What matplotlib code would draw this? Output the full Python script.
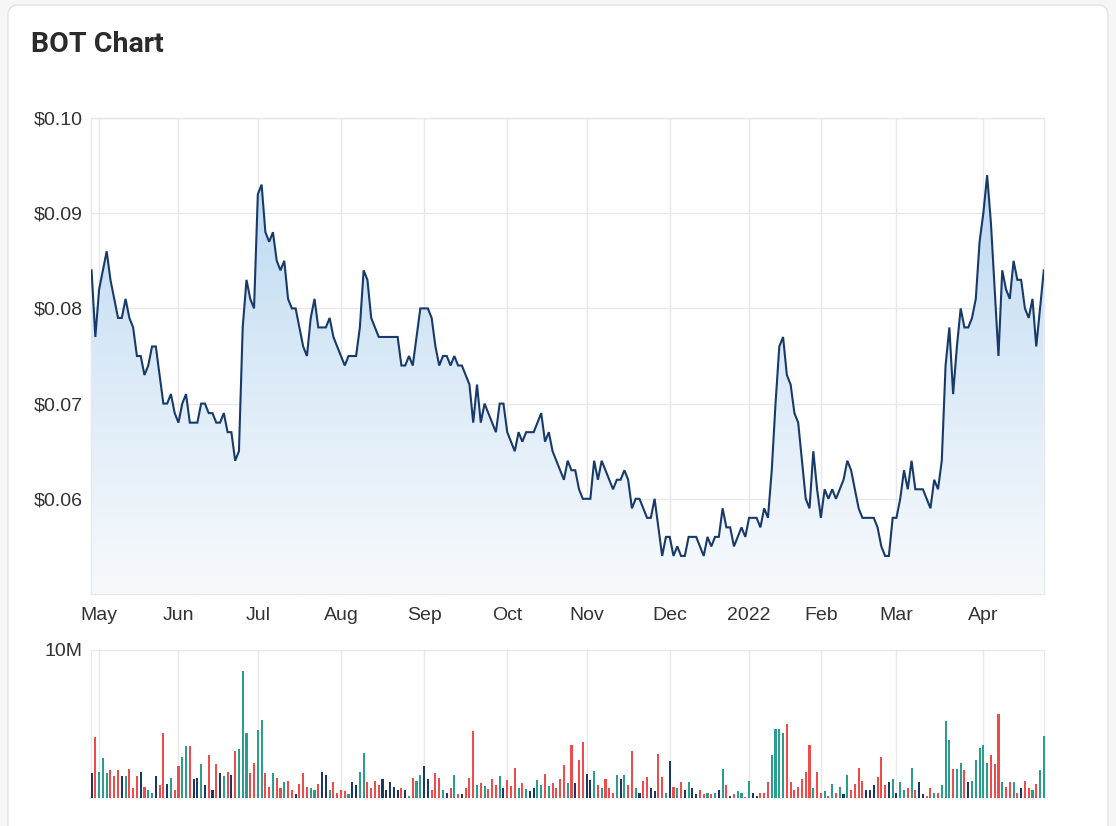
import numpy as np
import pandas as pd
import matplotlib
matplotlib.use("Agg")
import matplotlib.pyplot as plt
from matplotlib.patches import FancyBboxPatch
from matplotlib.colors import LinearSegmentedColormap
from matplotlib.transforms import IdentityTransform

# ASX closed days in the period
holidays = ["2021-06-14", "2021-12-27", "2021-12-28", "2022-01-03",
            "2022-01-26", "2022-04-15", "2022-04-18", "2022-04-25"]

# daily close ($), from 29 Apr 2021
price = [
    0.084, 0.077, 0.082, 0.084, 0.086, 0.083, 0.081, 0.079, 0.079, 0.081,
    0.079, 0.078, 0.075, 0.075, 0.073, 0.074, 0.076, 0.076, 0.073, 0.070,
    0.070, 0.071, 0.069, 0.068, 0.070, 0.071, 0.068, 0.068, 0.068, 0.070,
    0.070, 0.069, 0.069, 0.068, 0.068, 0.069, 0.067, 0.067, 0.064, 0.065,
    0.078, 0.083, 0.081, 0.080, 0.092, 0.093, 0.088, 0.087, 0.088, 0.085,
    0.084, 0.085, 0.081, 0.080, 0.080, 0.078, 0.076, 0.075, 0.079, 0.081,
    0.078, 0.078, 0.078, 0.079, 0.077, 0.076, 0.075, 0.074, 0.075, 0.075,
    0.075, 0.078, 0.084, 0.083, 0.079, 0.078, 0.077, 0.077, 0.077, 0.077,
    0.077, 0.077, 0.074, 0.074, 0.075, 0.074, 0.077, 0.080, 0.080, 0.080,
    0.079, 0.076, 0.074, 0.075, 0.075, 0.074, 0.075, 0.074, 0.074, 0.073,
    0.072, 0.068, 0.072, 0.068, 0.070, 0.069, 0.068, 0.067, 0.070, 0.070,
    0.067, 0.066, 0.065, 0.067, 0.066, 0.067, 0.067, 0.067, 0.068, 0.069,
    0.066, 0.067, 0.065, 0.064, 0.063, 0.062, 0.064, 0.063, 0.063, 0.061,
    0.060, 0.060, 0.060, 0.064, 0.062, 0.064, 0.063, 0.062, 0.061, 0.062,
    0.062, 0.063, 0.062, 0.059, 0.060, 0.060, 0.059, 0.058, 0.058, 0.060,
    0.057, 0.054, 0.056, 0.056, 0.054, 0.055, 0.054, 0.054, 0.056, 0.056,
    0.056, 0.055, 0.054, 0.056, 0.055, 0.056, 0.056, 0.059, 0.057, 0.057,
    0.055, 0.056, 0.057, 0.056, 0.058, 0.058, 0.058, 0.057, 0.059, 0.058,
    0.063, 0.070, 0.076, 0.077, 0.073, 0.072, 0.069, 0.068, 0.064, 0.060,
    0.059, 0.065, 0.061, 0.058, 0.061, 0.060, 0.061, 0.060, 0.061, 0.062,
    0.064, 0.063, 0.061, 0.059, 0.058, 0.058, 0.058, 0.058, 0.057, 0.055,
    0.054, 0.054, 0.058, 0.058, 0.060, 0.063, 0.061, 0.064, 0.061, 0.061,
    0.061, 0.060, 0.059, 0.062, 0.061, 0.064, 0.074, 0.078, 0.071, 0.076,
    0.080, 0.078, 0.078, 0.079, 0.081, 0.087, 0.090, 0.094, 0.089, 0.082,
    0.075, 0.084, 0.082, 0.081, 0.085, 0.083, 0.083, 0.080, 0.079, 0.081,
    0.076, 0.080, 0.084,
]

# daily volume (millions of shares)
volume = [
    1.68, 4.10, 1.77, 2.70, 1.68, 1.88, 1.48, 1.88, 1.48, 1.48,
    1.97, 0.67, 1.48, 1.77, 0.76, 0.56, 0.36, 1.48, 0.87, 4.40,
    0.96, 1.36, 0.56, 2.17, 2.77, 3.49, 3.49, 1.28, 1.36, 2.28,
    0.87, 2.89, 0.56, 2.28, 1.68, 1.48, 1.77, 1.57, 3.18, 3.29,
    8.61, 4.38, 1.68, 2.37, 4.59, 5.30, 1.68, 0.76, 1.68, 1.36,
    0.67, 1.07, 1.16, 0.56, 0.27, 0.96, 1.68, 0.76, 0.67, 0.56,
    0.96, 1.77, 1.57, 0.56, 1.07, 0.36, 0.56, 0.47, 0.27, 1.07,
    0.87, 1.77, 3.06, 1.07, 0.67, 1.16, 0.87, 1.28, 0.56, 1.07,
    0.76, 0.56, 0.67, 0.56, 0.16, 1.36, 1.16, 1.57, 2.17, 1.28,
    0.56, 1.68, 1.36, 0.56, 0.36, 0.67, 1.57, 0.27, 0.27, 0.67,
    1.36, 4.50, 0.87, 1.00, 0.80, 0.60, 1.30, 0.90, 1.50, 0.70,
    1.20, 0.80, 2.00, 0.70, 1.00, 0.60, 0.50, 0.70, 1.20, 0.90,
    1.60, 0.80, 1.00, 0.70, 1.30, 2.20, 1.00, 3.60, 1.00, 2.60,
    3.80, 1.60, 1.20, 1.80, 0.90, 0.65, 1.28, 0.65, 0.34, 1.57,
    1.28, 1.57, 0.87, 3.18, 0.65, 0.34, 1.16, 1.45, 0.65, 0.47,
    3.00, 1.45, 0.34, 2.48, 0.74, 0.65, 1.05, 0.56, 1.05, 0.65,
    0.27, 0.56, 0.27, 0.34, 0.27, 0.34, 0.56, 1.95, 0.87, 0.16,
    0.27, 0.47, 0.34, 0.05, 1.16, 0.34, 0.16, 0.34, 0.34, 1.05,
    2.89, 4.68, 4.68, 4.36, 4.99, 1.05, 0.56, 0.74, 1.28, 1.77,
    3.58, 0.65, 1.77, 0.34, 0.47, 0.16, 0.96, 0.34, 0.76, 0.27,
    1.57, 0.56, 0.96, 2.06, 1.16, 0.56, 0.56, 0.87, 1.45, 2.77,
    0.87, 1.05, 1.28, 0.34, 1.05, 0.56, 0.65, 2.06, 0.56, 1.05,
    0.27, 0.16, 0.65, 0.34, 0.34, 0.87, 5.19, 3.89, 1.95, 1.95,
    2.37, 1.88, 1.05, 1.16, 2.57, 3.38, 3.58, 2.37, 2.89, 2.28,
    5.70, 1.05, 0.76, 1.05, 1.05, 0.34, 0.65, 1.16, 0.65, 0.56,
    0.96, 1.88, 4.18,
]

# u = up day, d = down day, f = unchanged
direction = "".join([
    "fduuudddfu", "dddfduufdd", "fudduudffu", "fdfdfudfdu", "uudduuddud",
    "duddfddduu", "dffudddduf", "fuuddddfff", "ffdfuduuff", "dddufdudfd",
    "ddududdduf", "ddduduffuu", "duddddudfd", "dffududddu", "fuddufddff",
    "ddufdudfuf", "fddudufudf", "duuduffddd", "uuuudddddd", "duddududuf",
    "uddddfffdd", "dfufuududf", "fdduduuudu", "udfuuuuudd", "duddudfddu",
    "duu",
])

month_labels = ["May", "Jun", "Jul", "Aug", "Sep", "Oct", "Nov", "Dec",
                "2022", "Feb", "Mar", "Apr"]
price_ticks = [0.06, 0.07, 0.08, 0.09, 0.10]

assert len(price) == len(volume) == len(direction)

days = pd.bdate_range("2021-04-29", "2022-05-31")
days = days[~days.isin(pd.to_datetime(holidays))][:len(price)]
x = np.arange(len(price))
months = days.to_period("M")
month_pos = [i for i in range(1, len(days)) if months[i] != months[i - 1]]

plt.rcParams['font.family'] = ['Liberation Sans', 'DejaVu Sans']

W, H = 1116, 826
fig = plt.figure(figsize=(W / 100, H / 100), dpi=100, facecolor="#f6f6f6")

# white card behind everything
card = FancyBboxPatch((8, -30), 1100, H - 5 + 30,
                      boxstyle="round,pad=0,rounding_size=10",
                      transform=IdentityTransform(), facecolor="white",
                      edgecolor="#e2e2e2", linewidth=1, zorder=-10)
fig.patches.append(card)

fig.text(31 / W, 1 - 44 / H, "BOT Chart", fontsize=20.5, fontweight="bold",
         color="#2b2b2b", va="center", ha="left", family=["Roboto", "DejaVu Sans"])

grid_c = "#e8e8e8"
text_c = "#333333"
x0, x1 = -0.15, len(price) - 1 + 0.05

# price panel
ax = fig.add_axes([91 / W, 1 - 594 / H, (1044 - 91) / W, (594 - 118) / H])
ax.set_facecolor("none")
ax.set_xlim(x0, x1)
ax.set_ylim(0.05, 0.10)

grad = np.linspace(0, 1, 256).reshape(-1, 1)
cmap = LinearSegmentedColormap.from_list("fill", ["#f7fafd", "#d9e9f7", "#b3d4f0"])
im = ax.imshow(grad, extent=[x0, x1, 0.05, 0.10], origin="lower",
               aspect="auto", cmap=cmap, zorder=1)
poly = ax.fill_between(x, price, 0.05, color="none", linewidth=0)
im.set_clip_path(poly.get_paths()[0], transform=ax.transData)
ax.plot(x, price, color="#173a6b", linewidth=1.5, zorder=3,
        solid_joinstyle="miter")

ax.set_yticks(price_ticks)
ax.set_yticklabels([f"${v:.2f}" for v in price_ticks])
ax.set_xticks(month_pos)
ax.set_xticklabels(month_labels)
ax.grid(True, color=grid_c, linewidth=1, zorder=0)
ax.set_axisbelow(True)
for s in ax.spines.values():
    s.set_color(grid_c)
    s.set_linewidth(1)
ax.tick_params(length=0, labelsize=14, colors=text_c)
ax.tick_params(axis="y", pad=6)
ax.tick_params(axis="x", pad=9)

# volume panel
vax = fig.add_axes([91 / W, 1 - 798 / H, (1044 - 91) / W, (798 - 650) / H])
vax.set_facecolor("none")
vax.set_xlim(x0, x1)
vax.set_ylim(0, 10)
colors = {"u": "#2a9d8f", "d": "#ef4b4b", "f": "#1b3766"}
bars = vax.bar(x, volume, width=0.55, color=[colors[c] for c in direction],
               linewidth=0, zorder=3, antialiased=False)
for b in bars:
    b.set_clip_on(False)
vax.set_xticks(month_pos)
vax.set_xticklabels([])
vax.set_yticks([10])
vax.set_yticklabels(["10M"])
vax.grid(True, color=grid_c, linewidth=1, zorder=0)
vax.set_axisbelow(True)
for name, s in vax.spines.items():
    s.set_color(grid_c)
    s.set_zorder(1)
    s.set_visible(name != "bottom")
vax.tick_params(length=0, labelsize=14, colors=text_c)
vax.tick_params(axis="y", pad=6)

fig.savefig("out.png", dpi=100, facecolor=fig.get_facecolor())
